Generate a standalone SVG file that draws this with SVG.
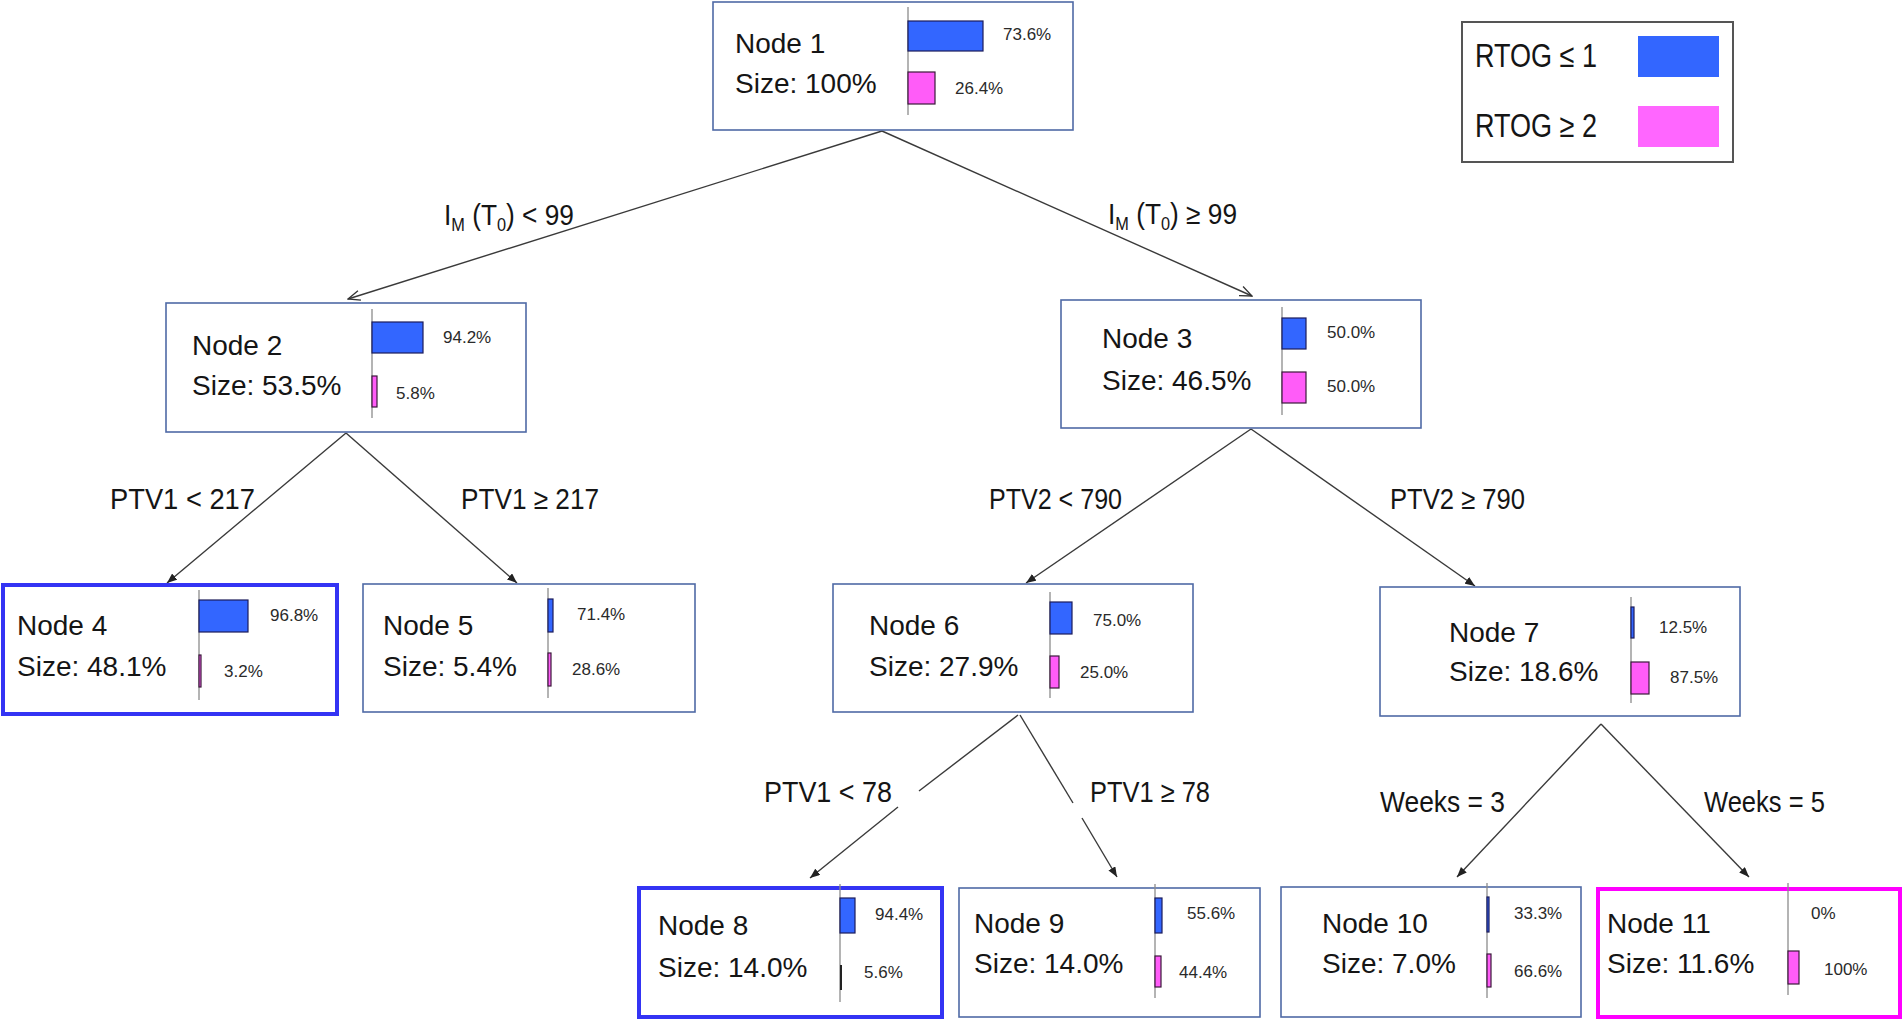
<svg xmlns="http://www.w3.org/2000/svg" width="1903" height="1021" viewBox="0 0 1903 1021">
<style>
text{font-family:"Liberation Sans",Arial,sans-serif;fill:#151515}
.box{fill:#fff;stroke:#4f6aa6;stroke-width:1.6}
.boxB{fill:#fff;stroke:#3434f4;stroke-width:4}
.boxM{fill:#fff;stroke:#ff00ff;stroke-width:4}
.t{font-size:28px}
.p{font-size:17px;fill:#2a2a2a}
.div{stroke:#8c8c8c;stroke-width:1.3}
.bl{fill:#3366ff;stroke:#1c1c5a;stroke-width:1.2}
.pk{fill:#ff5cf8;stroke:#3a1a3a;stroke-width:1.2}
.e{font-size:29px}
.sub{font-size:18px}
.ln{stroke:#3a3a3a;stroke-width:1.4;fill:none}
</style>
<defs>
<marker id="fa" markerUnits="userSpaceOnUse" markerWidth="10" markerHeight="8" refX="10" refY="4" orient="auto"><path d="M0,0 L10,4 L0,8 z" fill="#222"/></marker>
<marker id="oa" markerUnits="userSpaceOnUse" markerWidth="14" markerHeight="12" refX="13" refY="6" orient="auto"><path d="M1,1 L13,6 L1,11" fill="none" stroke="#333" stroke-width="1.3"/></marker>
</defs>
<rect width="1903" height="1021" fill="#fff"/>

<g id="connectors">
<line class="ln" x1="882" y1="131" x2="348" y2="299" marker-end="url(#oa)"/>
<line class="ln" x1="882" y1="131" x2="1252" y2="296" marker-end="url(#oa)"/>
<line class="ln" x1="346" y1="433" x2="167" y2="583" marker-end="url(#fa)"/>
<line class="ln" x1="346" y1="433" x2="517" y2="583" marker-end="url(#fa)"/>
<line class="ln" x1="1251" y1="429" x2="1026" y2="583" marker-end="url(#fa)"/>
<line class="ln" x1="1251" y1="429" x2="1475" y2="586" marker-end="url(#fa)"/>
<line class="ln" x1="1018" y1="715" x2="919" y2="791"/>
<line class="ln" x1="898" y1="807" x2="810" y2="878" marker-end="url(#fa)"/>
<line class="ln" x1="1020" y1="715" x2="1073" y2="803"/>
<line class="ln" x1="1082" y1="818" x2="1117" y2="877" marker-end="url(#fa)"/>
<line class="ln" x1="1601" y1="724" x2="1457" y2="877" marker-end="url(#fa)"/>
<line class="ln" x1="1601" y1="724" x2="1749" y2="877" marker-end="url(#fa)"/>
<text class="e" x="444" y="225" textLength="130" lengthAdjust="spacingAndGlyphs">I<tspan class="sub" dy="6">M</tspan><tspan dy="-6"> (T</tspan><tspan class="sub" dy="6">0</tspan><tspan dy="-6">) &lt; 99</tspan></text>
<text class="e" x="1108" y="224" textLength="129" lengthAdjust="spacingAndGlyphs">I<tspan class="sub" dy="6">M</tspan><tspan dy="-6"> (T</tspan><tspan class="sub" dy="6">0</tspan><tspan dy="-6">) ≥ 99</tspan></text>
<text class="e" x="110" y="509" textLength="145" lengthAdjust="spacingAndGlyphs">PTV1 &lt; 217</text>
<text class="e" x="461" y="509" textLength="138" lengthAdjust="spacingAndGlyphs">PTV1  ≥ 217</text>
<text class="e" x="989" y="509" textLength="133" lengthAdjust="spacingAndGlyphs">PTV2 &lt; 790</text>
<text class="e" x="1390" y="509" textLength="135" lengthAdjust="spacingAndGlyphs">PTV2 ≥ 790</text>
<text class="e" x="764" y="802" textLength="128" lengthAdjust="spacingAndGlyphs">PTV1 &lt; 78</text>
<text class="e" x="1090" y="802" textLength="120" lengthAdjust="spacingAndGlyphs">PTV1 ≥ 78</text>
<text class="e" x="1380" y="812" textLength="125" lengthAdjust="spacingAndGlyphs">Weeks = 3</text>
<text class="e" x="1704" y="812" textLength="121" lengthAdjust="spacingAndGlyphs">Weeks = 5</text>
</g>

<g id="legend">
<rect x="1462" y="22" width="271" height="140" fill="#fff" stroke="#555" stroke-width="2"/>
<text x="1475" y="67" font-size="33" textLength="122" lengthAdjust="spacingAndGlyphs">RTOG ≤ 1</text>
<text x="1475" y="137" font-size="33" textLength="122" lengthAdjust="spacingAndGlyphs">RTOG ≥ 2</text>
<rect x="1638" y="36" width="81" height="41" fill="#3366ff"/>
<rect x="1638" y="106" width="81" height="41" fill="#ff66ff"/>
</g>

<g id="node1">
<rect class="box" x="713" y="2" width="360" height="128"/>
<text class="t" x="735" y="53">Node 1</text>
<text class="t" x="735" y="93">Size: 100%</text>
<line class="div" x1="908" y1="7" x2="908" y2="115"/>
<rect class="bl" x="908" y="21" width="75" height="30"/>
<rect class="pk" x="908" y="72" width="27" height="32"/>
<text class="p" x="1003" y="40">73.6%</text>
<text class="p" x="955" y="94">26.4%</text>
</g>

<g id="node2">
<rect class="box" x="166" y="303" width="360" height="129"/>
<text class="t" x="192" y="355">Node 2</text>
<text class="t" x="192" y="395">Size: 53.5%</text>
<line class="div" x1="372" y1="309" x2="372" y2="418"/>
<rect class="bl" x="372" y="322" width="51" height="31"/>
<rect class="pk" x="372" y="376" width="5" height="31"/>
<text class="p" x="443" y="343">94.2%</text>
<text class="p" x="396" y="399">5.8%</text>
</g>

<g id="node3">
<rect class="box" x="1061" y="300" width="360" height="128"/>
<text class="t" x="1102" y="348">Node 3</text>
<text class="t" x="1102" y="390">Size: 46.5%</text>
<line class="div" x1="1282" y1="307" x2="1282" y2="415"/>
<rect class="bl" x="1282" y="318" width="24" height="31"/>
<rect class="pk" x="1282" y="372" width="24" height="31"/>
<text class="p" x="1327" y="338">50.0%</text>
<text class="p" x="1327" y="392">50.0%</text>
</g>

<g id="node4">
<rect class="boxB" x="3" y="585" width="334" height="129"/>
<text class="t" x="17" y="635">Node 4</text>
<text class="t" x="17" y="676">Size: 48.1%</text>
<line class="div" x1="199" y1="590" x2="199" y2="700"/>
<rect class="bl" x="199" y="600" width="49" height="32"/>
<rect class="pk" x="199" y="655" width="2" height="32"/>
<text class="p" x="270" y="621">96.8%</text>
<text class="p" x="224" y="677">3.2%</text>
</g>

<g id="node5">
<rect class="box" x="363" y="584" width="332" height="128"/>
<text class="t" x="383" y="635">Node 5</text>
<text class="t" x="383" y="676">Size: 5.4%</text>
<line class="div" x1="548" y1="588" x2="548" y2="698"/>
<rect class="bl" x="548" y="599" width="5" height="33"/>
<rect class="pk" x="548" y="653" width="3" height="33"/>
<text class="p" x="577" y="620">71.4%</text>
<text class="p" x="572" y="675">28.6%</text>
</g>

<g id="node6">
<rect class="box" x="833" y="584" width="360" height="128"/>
<text class="t" x="869" y="635">Node 6</text>
<text class="t" x="869" y="676">Size: 27.9%</text>
<line class="div" x1="1050" y1="592" x2="1050" y2="698"/>
<rect class="bl" x="1050" y="602" width="22" height="32"/>
<rect class="pk" x="1050" y="656" width="9" height="32"/>
<text class="p" x="1093" y="626">75.0%</text>
<text class="p" x="1080" y="678">25.0%</text>
</g>

<g id="node7">
<rect class="box" x="1380" y="587" width="360" height="129"/>
<text class="t" x="1449" y="642">Node 7</text>
<text class="t" x="1449" y="681">Size: 18.6%</text>
<line class="div" x1="1631" y1="597" x2="1631" y2="703"/>
<rect class="bl" x="1631" y="607" width="3" height="31"/>
<rect class="pk" x="1631" y="662" width="18" height="32"/>
<text class="p" x="1659" y="633">12.5%</text>
<text class="p" x="1670" y="683">87.5%</text>
</g>

<g id="node8">
<rect class="boxB" x="639" y="888" width="303" height="129"/>
<text class="t" x="658" y="935">Node 8</text>
<text class="t" x="658" y="977">Size: 14.0%</text>
<line class="div" x1="840" y1="884" x2="840" y2="1002"/>
<rect class="bl" x="840" y="898" width="15" height="35"/>
<rect x="840" y="965" width="2" height="25" fill="#222"/>
<text class="p" x="875" y="920">94.4%</text>
<text class="p" x="864" y="978">5.6%</text>
</g>

<g id="node9">
<rect class="box" x="959" y="888" width="301" height="129"/>
<text class="t" x="974" y="933">Node 9</text>
<text class="t" x="974" y="973">Size: 14.0%</text>
<line class="div" x1="1155" y1="884" x2="1155" y2="998"/>
<rect class="bl" x="1155" y="898" width="7" height="35"/>
<rect class="pk" x="1155" y="956" width="6" height="31"/>
<text class="p" x="1187" y="919">55.6%</text>
<text class="p" x="1179" y="978">44.4%</text>
</g>

<g id="node10">
<rect class="box" x="1281" y="887" width="300" height="130"/>
<text class="t" x="1322" y="933">Node 10</text>
<text class="t" x="1322" y="973">Size: 7.0%</text>
<line class="div" x1="1487" y1="883" x2="1487" y2="998"/>
<rect class="bl" x="1487" y="897" width="2" height="35"/>
<rect class="pk" x="1487" y="954" width="4" height="33"/>
<text class="p" x="1514" y="919">33.3%</text>
<text class="p" x="1514" y="977">66.6%</text>
</g>

<g id="node11">
<rect class="boxM" x="1598" y="889" width="302" height="128"/>
<text class="t" x="1607" y="933">Node 11</text>
<text class="t" x="1607" y="973">Size: 11.6%</text>
<line class="div" x1="1788" y1="883" x2="1788" y2="995"/>
<rect class="pk" x="1788" y="951" width="11" height="33"/>
<text class="p" x="1811" y="919">0%</text>
<text class="p" x="1824" y="975">100%</text>
</g>
</svg>
